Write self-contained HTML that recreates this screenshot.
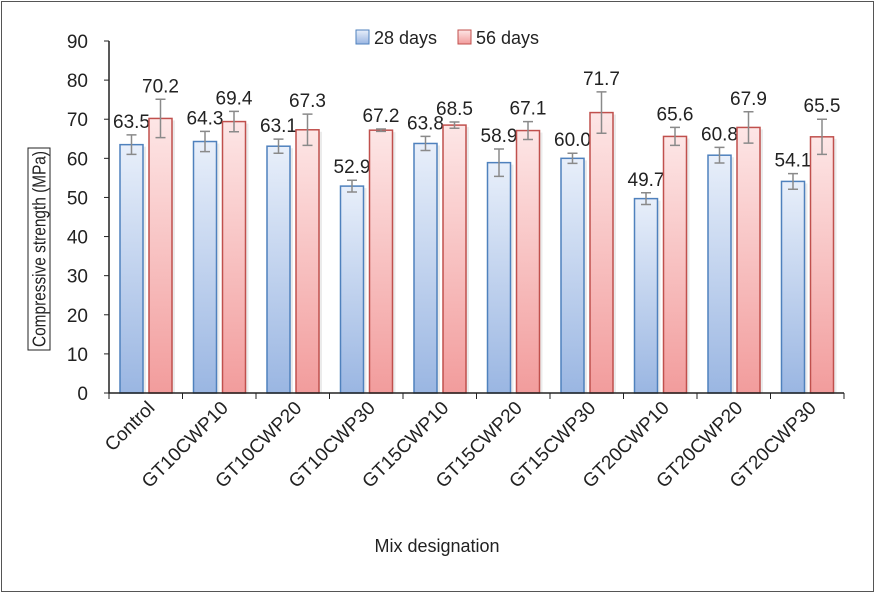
<!DOCTYPE html>
<html><head><meta charset="utf-8"><style>
body{margin:0;background:#fff;}
svg{display:block;font-family:"Liberation Sans",sans-serif;}
</style></head><body>
<svg id="chart" width="876" height="594" viewBox="0 0 876 594">
<defs>
<linearGradient id="gb" x1="0" y1="0" x2="0" y2="1"><stop offset="0" stop-color="#e8effa"/><stop offset="1" stop-color="#9ab6e2"/></linearGradient>
<linearGradient id="gr" x1="0" y1="0" x2="0" y2="1"><stop offset="0" stop-color="#fde6e6"/><stop offset="1" stop-color="#f29c9c"/></linearGradient>
</defs>
<rect x="1.5" y="1.5" width="872" height="590" fill="#fff" stroke="#555" stroke-width="1"/>
<g id="plot"></g>
<g>
<rect x="356" y="30" width="13" height="14" fill="url(#gb)" stroke="#4f81bd"/>
<text x="374" y="44" font-size="18" fill="#222">28 days</text>
<rect x="458" y="30" width="13" height="14" fill="url(#gr)" stroke="#c0504d"/>
<text x="476" y="44" font-size="18" fill="#222">56 days</text>
</g>
<g>
<rect x="28" y="148" width="22" height="202" fill="#fff" stroke="#222"/>
<text transform="translate(45.5,249) rotate(-90)" text-anchor="middle" font-size="18" fill="#222" textLength="196" lengthAdjust="spacingAndGlyphs">Compressive strength (MPa)</text>
</g>
<text x="437" y="552" text-anchor="middle" font-size="18" fill="#222">Mix designation</text>
</svg>
<script>
const categories=["Control","GT10CWP10","GT10CWP20","GT10CWP30","GT15CWP10","GT15CWP20","GT15CWP30","GT20CWP10","GT20CWP20","GT20CWP30"];
const days28=[63.5,64.3,63.1,52.9,63.8,58.9,60.0,49.7,60.8,54.1];
const days56=[70.2,69.4,67.3,67.2,68.5,67.1,71.7,65.6,67.9,65.5];
const err28=[2.5,2.6,1.8,1.5,1.8,3.5,1.3,1.5,2.0,2.0];
const err56=[4.9,2.6,4.0,0.3,0.8,2.3,5.3,2.3,4.0,4.5];
const yTicks=[0,10,20,30,40,50,60,70,80,90];

const NS="http://www.w3.org/2000/svg";
const g=document.getElementById('plot');
const X0=109,CW=73.5,Y0=393,YMAX=90,PH=352;
const y=v=>Y0-v/YMAX*PH;
const catX=i=>X0+i*CW;
function mk(tag,attrs,parent){const e=document.createElementNS(NS,tag);for(const k in attrs)e.setAttribute(k,attrs[k]);(parent||g).appendChild(e);return e;}

yTicks.forEach(t=>{
  const tk=mk('line',{x1:X0-5,x2:X0,y1:y(t),y2:y(t),stroke:'#222'});
  
  
  const tx=mk('text',{x:X0-21,y:y(t)+7,'text-anchor':'end','font-size':19,fill:'#222'});
  tx.textContent=t;
  
  
});

function bar(i,v,e,off,fill,stroke,series){
  const x=catX(i)+off,w=23;
  const sh=mk('rect',{x:x+3,y:y(v)+2,width:w,height:Y0-y(v)-2,fill:'#000',opacity:0.08});
  
  
  const r=mk('rect',{x:x,y:y(v),width:w,height:Y0-y(v),fill:fill,stroke:stroke,'stroke-width':1.5});
  
  
  const cx=x+w/2;
  const eb=mk('path',{d:`M${cx},${y(v+e)}V${y(v-e)}M${cx-5},${y(v+e)}H${cx+5}M${cx-5},${y(v-e)}H${cx+5}`,stroke:'#8a8a8a','stroke-width':1.5,fill:'none'});
  
  
  const lb=mk('text',{x:cx,y:y(v+e)-7,'text-anchor':'middle','font-size':19,fill:'#222'});
  lb.textContent=v.toFixed(1);
  
  
}
categories.forEach((c,i)=>{
  bar(i,days28[i],err28[i],11,'url(#gb)','#4f81bd','28-days');
  bar(i,days56[i],err56[i],40,'url(#gr)','#c0504d','56-days');
});
const ax=mk('path',{d:`M${X0},${y(90)}V${Y0}H${X0+CW*10}`,stroke:'#222','stroke-width':1.5,fill:'none'});


for(let i=0;i<=10;i++){
  const tk=mk('line',{x1:catX(i),x2:catX(i),y1:Y0,y2:Y0+6,stroke:'#222'});
  
  
}
categories.forEach((c,i)=>{
  const cx=catX(i)+CW/2+10;
  const t=mk('text',{transform:`translate(${cx},${Y0+16}) rotate(-45)`,'text-anchor':'end','font-size':19,fill:'#222'});
  t.textContent=c;
  
  
});
</script>
</body></html>
